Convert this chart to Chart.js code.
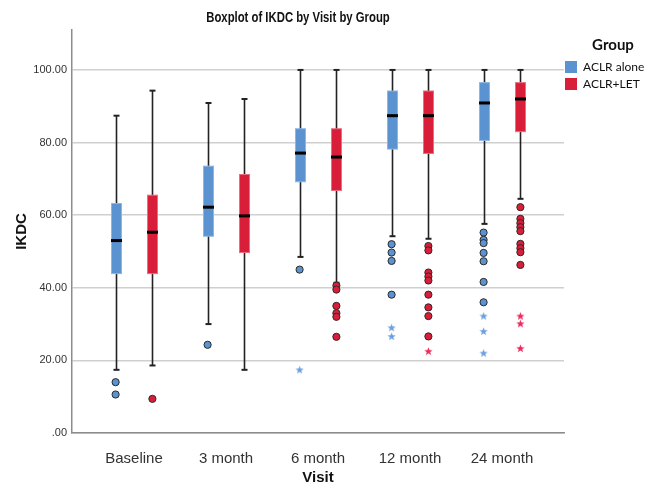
<!DOCTYPE html>
<html>
<head>
<meta charset="utf-8">
<script src="https://cdn.jsdelivr.net/npm/chart.js@4"></script>
<style>
  html, body { margin: 0; padding: 0; background: #fff; }
  #wrap { width: 656px; height: 490px; }
</style>
</head>
<body>
<div id="wrap"><canvas id="chart"></canvas></div>
<script>
// categories and groups
const visits = ['Baseline', '3 month', '6 month', '12 month', '24 month'];
const groups = ['ACLR alone', 'ACLR+LET'];

// five-number summaries, ACLR alone
const aloneMin = [17.4, 30.0, 48.5, 54.2, 57.6];
const aloneQ1 = [43.9, 54.2, 69.2, 78.2, 80.6];
const aloneMedian = [53.0, 62.2, 77.1, 87.4, 90.9];
const aloneQ3 = [63.2, 73.5, 83.8, 94.2, 96.5];
const aloneMax = [87.4, 90.9, 100, 100, 100];

// five-number summaries, ACLR+LET
const letMin = [18.6, 17.4, 41.4, 53.5, 64.5];
const letQ1 = [43.9, 49.7, 66.8, 77.0, 83.0];
const letMedian = [55.3, 59.8, 76.0, 87.4, 92.0];
const letQ3 = [65.5, 71.2, 83.8, 94.2, 96.5];
const letMax = [94.3, 92.0, 100, 100, 100];

// outliers (circles) and extremes (stars) per visit
const aloneOutliers = [[14.0, 10.6], [24.3], [45.0], [52.0, 49.7, 47.4, 38.1], [55.2, 53.2, 52.3, 49.6, 47.3, 41.6, 36.0]];
const aloneExtremes = [[], [], [17.4], [29.0, 26.6], [32.2, 28.0, 22.0]];
const letOutliers = [[9.4], [], [40.6, 39.5, 35.0, 33.0, 32.0, 26.5], [51.5, 50.3, 44.2, 43.1, 42.0, 38.1, 34.6, 32.2, 26.6], [62.2, 59.0, 57.8, 56.7, 55.6, 52.1, 50.9, 49.8, 46.3]];
const letExtremes = [[], [], [], [22.5], [32.2, 30.1, 23.3]];

// y axis ticks
const yTicks = [0, 20, 40, 60, 80, 100];

const blue = '#5b92d0';
const red = '#d91e3a';
const groupOffset = [-0.2, 0.2];

function toPoints(lists, off) {
  const pts = [];
  lists.forEach((vals, i) => vals.forEach(v => pts.push({ x: i + off, y: v })));
  return pts;
}

// small filled five-point star used as point style
function starImage(color) {
  const c = document.createElement('canvas');
  c.width = 9; c.height = 9;
  const g = c.getContext('2d');
  g.fillStyle = color;
  g.beginPath();
  for (let k = 0; k < 10; k++) {
    const r = k % 2 === 0 ? 4.4 : 1.8;
    const a = -Math.PI / 2 + k * Math.PI / 5;
    g.lineTo(4.5 + r * Math.cos(a), 4.8 + r * Math.sin(a));
  }
  g.closePath();
  g.fill();
  return c;
}

const boxes = [
  { min: aloneMin, q1: aloneQ1, med: aloneMedian, q3: aloneQ3, max: aloneMax, color: blue, edge: '#8db5e6', off: groupOffset[0] },
  { min: letMin, q1: letQ1, med: letMedian, q3: letQ3, max: letMax, color: red, edge: '#ea6d80', off: groupOffset[1] }
];

// boxes and whiskers, drawn under the outlier points
const boxPlugin = {
  id: 'boxes',
  beforeDatasetsDraw(chart) {
    const ctx = chart.ctx, x = chart.scales.x, y = chart.scales.y;
    ctx.save();
    boxes.forEach(b => {
      visits.forEach((v, i) => {
        const cx = Math.round(x.getPixelForValue(i + b.off)) + 0.5;
        const hw = 5;
        // whisker
        ctx.strokeStyle = '#222';
        ctx.lineWidth = 1.6;
        ctx.beginPath();
        ctx.moveTo(cx, y.getPixelForValue(b.max[i]));
        ctx.lineTo(cx, y.getPixelForValue(b.min[i]));
        ctx.stroke();
        // caps
        ctx.lineWidth = 2;
        [b.max[i], b.min[i]].forEach(val => {
          const py = y.getPixelForValue(val);
          ctx.beginPath();
          ctx.moveTo(cx - 3, py);
          ctx.lineTo(cx + 3, py);
          ctx.stroke();
        });
        // box
        const top = y.getPixelForValue(b.q3[i]);
        const bot = y.getPixelForValue(b.q1[i]);
        ctx.fillStyle = b.color;
        ctx.fillRect(cx - hw, top, hw * 2, bot - top);
        ctx.strokeStyle = b.edge;
        ctx.lineWidth = 1;
        ctx.strokeRect(cx - hw, top, hw * 2, bot - top);
        // median
        ctx.strokeStyle = '#000';
        ctx.lineWidth = 3;
        const my = y.getPixelForValue(b.med[i]);
        ctx.beginPath();
        ctx.moveTo(cx - hw - 0.5, my);
        ctx.lineTo(cx + hw + 0.5, my);
        ctx.stroke();
      });
    });
    ctx.restore();
  },
  afterDraw(chart) {
    const ctx = chart.ctx;
    ctx.save();
    // title, condensed like the original
    ctx.fillStyle = '#111';
    ctx.textAlign = 'center';
    ctx.textBaseline = 'middle';
    ctx.font = 'bold 15px "Liberation Sans", Arial';
    ctx.save();
    ctx.translate(298, 18);
    ctx.scale(0.755, 1);
    ctx.fillText('Boxplot of IKDC by Visit by Group', 0, 0);
    ctx.restore();
    // legend
    ctx.font = 'bold 15px Lato, "Open Sans", sans-serif';
    ctx.fillText('Group', 613, 45);
    ctx.textAlign = 'left';
    ctx.font = '12px Lato, "Open Sans", sans-serif';
    [blue, red].forEach((c, k) => {
      const ty = 61 + k * 17;
      ctx.fillStyle = c;
      ctx.fillRect(565, ty, 12, 12);
      ctx.fillStyle = '#111';
      ctx.fillText(groups[k], 583, ty + 6.5);
    });
    ctx.restore();
  }
};

new Chart(document.getElementById('chart'), {
  type: 'scatter',
  data: {
    datasets: [
      { label: groups[0], data: toPoints(aloneOutliers, groupOffset[0]), pointStyle: 'circle', pointRadius: 3.6, backgroundColor: blue, borderColor: '#2a2a2a', borderWidth: 1 },
      { label: groups[1], data: toPoints(letOutliers, groupOffset[1]), pointStyle: 'circle', pointRadius: 3.6, backgroundColor: red, borderColor: '#2a2a2a', borderWidth: 1 },
      { label: groups[0] + ' extreme', data: toPoints(aloneExtremes, groupOffset[0]), pointStyle: starImage('#6a9fe0') },
      { label: groups[1] + ' extreme', data: toPoints(letExtremes, groupOffset[1]), pointStyle: starImage('#ec2a5a') }
    ]
  },
  options: {
    responsive: true,
    maintainAspectRatio: false,
    animation: false,
    layout: { padding: { top: 30, right: 92, left: 0, bottom: 0 } },
    plugins: {
      legend: { display: false },
      title: { display: false },
      tooltip: { enabled: false }
    },
    scales: {
      x: {
        type: 'linear',
        min: -0.674,
        max: 4.674,
        afterBuildTicks: scale => { scale.ticks = visits.map((v, i) => ({ value: i })); },
        afterFit: scale => { scale.height = 57; },
        grid: { display: false },
        border: { color: '#8c8c8c', width: 1.5 },
        ticks: {
          autoSkip: false,
          maxRotation: 0,
          padding: 9,
          color: '#333',
          font: { family: '"Liberation Sans", Arial', size: 15 },
          callback: v => visits[v]
        },
        title: {
          display: true,
          text: 'Visit',
          color: '#111',
          padding: { top: 0, bottom: 3 },
          font: { family: '"Liberation Sans", Arial', size: 15, weight: 'bold' }
        }
      },
      y: {
        min: 0,
        max: 111,
        afterBuildTicks: scale => { scale.ticks = yTicks.map(v => ({ value: v })); },
        afterFit: scale => { scale.width = 72; },
        grid: { color: '#cfcfcf', lineWidth: 1.5, drawTicks: false },
        border: { color: '#8c8c8c', width: 1.5 },
        ticks: {
          padding: 5,
          color: '#333',
          font: { family: '"Liberation Sans", Arial', size: 11 },
          callback: v => v === 0 ? '.00' : v.toFixed(2)
        },
        title: {
          display: true,
          text: 'IKDC',
          color: '#111',
          padding: { top: 13, bottom: 0 },
          font: { family: '"Liberation Sans", Arial', size: 15, weight: 'bold' }
        }
      }
    }
  },
  plugins: [boxPlugin]
});
</script>
</body>
</html>
